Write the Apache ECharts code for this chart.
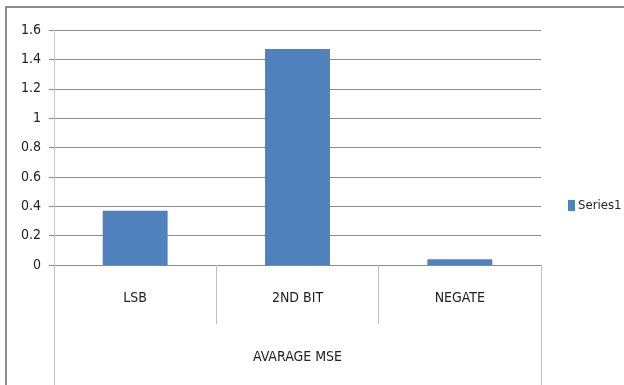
<!DOCTYPE html>
<html>
<head>
<meta charset="utf-8">
<script src="https://cdn.jsdelivr.net/npm/echarts@6/dist/echarts.min.js"></script>
<style>
  html, body { margin: 0; padding: 0; background: #fff; }
  #chart { width: 624px; height: 385px; }
</style>
</head>
<body>
<div id="chart"></div>
<script>
const categories = ['LSB', '2ND BIT', 'NEGATE']
const groupLabels = ['AVARAGE MSE']
const seriesName = 'Series1'
const values = [0.37, 1.47, 0.04]

const chart = echarts.init(document.getElementById('chart'))
const font = '"Liberation Sans Narrow", "DejaVu Sans Condensed", "Liberation Sans", sans-serif'

chart.setOption({
  animation: false,
  textStyle: { fontFamily: font },
  graphic: [
    {
      type: 'rect',
      shape: { x: 6, y: 7, width: 700, height: 420 },
      style: { fill: 'none', stroke: '#8c8c8c', lineWidth: 2 },
      silent: true
    }
  ],
  legend: {
    data: [seriesName],
    icon: 'rect',
    left: 563,
    top: 194,
    itemWidth: 7,
    itemHeight: 11,
    itemGap: 4,
    textStyle: { fontFamily: font, fontSize: 13, color: '#222', padding: [0, 0, 0, -2] }
  },
  grid: { left: 54, right: 83, top: 30, bottom: 120 },
  xAxis: [
    {
      type: 'category',
      data: categories,
      axisLine: { lineStyle: { color: '#8a8a8a' } },
      axisTick: { show: true, interval: 0, length: 59, lineStyle: { color: '#c0c0c0' } },
      axisLabel: { margin: 26, fontFamily: font, fontSize: 14, color: '#222' }
    },
    {
      type: 'category',
      position: 'bottom',
      data: groupLabels,
      axisLine: { show: false },
      axisTick: { show: true, length: 120, lineStyle: { color: '#c0c0c0' } },
      axisLabel: { margin: 85, fontFamily: font, fontSize: 14, color: '#222' }
    }
  ],
  yAxis: {
    type: 'value',
    min: 0,
    max: 1.6,
    interval: 0.2,
    axisLine: { show: true, lineStyle: { color: '#c8c8c8' } },
    axisTick: { show: true, length: 5, lineStyle: { color: '#8a8a8a' } },
    axisLabel: { margin: 13, fontFamily: font, fontSize: 14, color: '#222' },
    splitLine: { lineStyle: { color: '#8a8a8a' } }
  },
  series: [
    {
      name: seriesName,
      type: 'bar',
      xAxisIndex: 0,
      barWidth: '40%',
      data: values,
      itemStyle: { color: '#4f81bd' }
    }
  ]
})
</script>
</body>
</html>
